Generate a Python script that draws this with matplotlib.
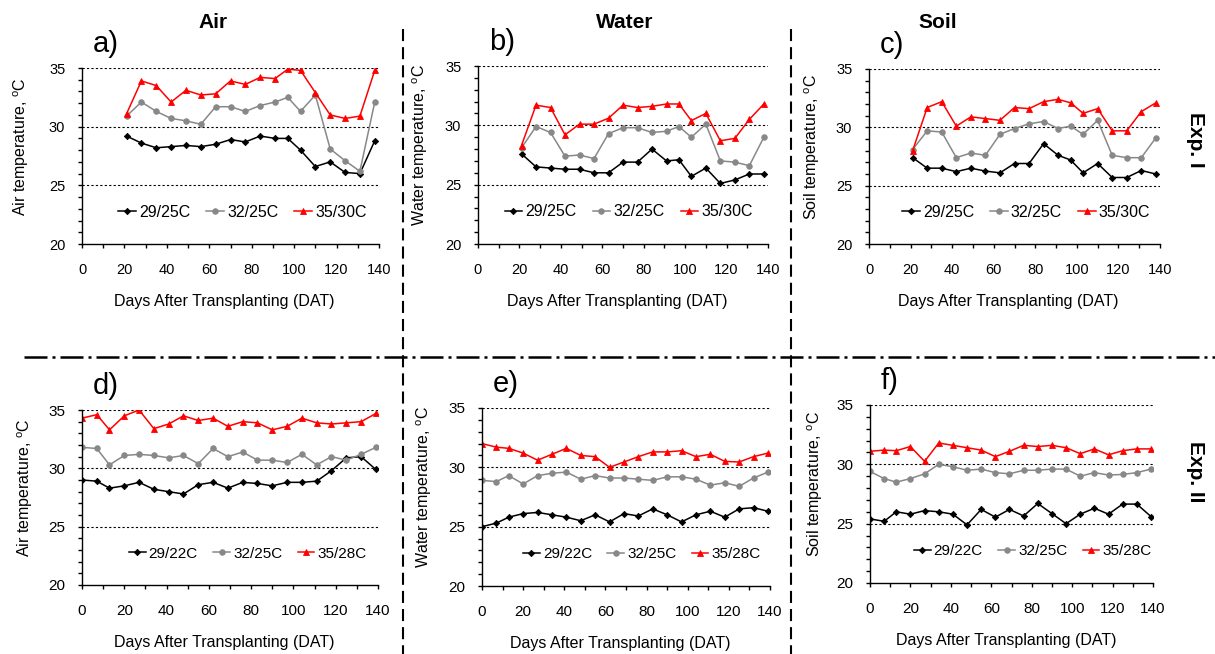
import matplotlib
matplotlib.use("Agg")
import matplotlib.pyplot as plt
from matplotlib.ticker import MultipleLocator

plt.rcParams['font.family'] = ['Liberation Sans', 'DejaVu Sans']
plt.rcParams['mathtext.fontset'] = 'custom'
plt.rcParams['mathtext.rm'] = 'Liberation Sans'

# Days after transplanting
dat_exp1 = [21, 28, 35, 42, 49, 56, 63, 70, 77, 84, 91, 97, 103, 110, 117, 124, 131, 138]
dat_exp2 = [0, 7, 13, 20, 27, 34, 41, 48, 55, 62, 69, 76, 83, 90, 97, 104, 111, 118, 125, 132, 139]

labels_exp1 = ["29/25C", "32/25C", "35/30C"]
labels_exp2 = ["29/22C", "32/25C", "35/28C"]

# Exp. I
air1_low = [29.2, 28.6, 28.2, 28.3, 28.4, 28.3, 28.5, 28.9, 28.7, 29.2, 29.0, 29.0, 28.0, 26.6, 27.0, 26.1, 26.0, 28.8]
air1_mid = [30.9, 32.1, 31.3, 30.7, 30.5, 30.2, 31.7, 31.7, 31.3, 31.8, 32.1, 32.5, 31.3, 32.7, 28.1, 27.1, 26.2, 32.1]
air1_high = [31.1, 33.9, 33.5, 32.1, 33.1, 32.7, 32.8, 33.9, 33.6, 34.2, 34.1, 34.9, 34.8, 32.9, 31.0, 30.7, 30.9, 34.8]

water1_low = [27.6, 26.5, 26.4, 26.3, 26.3, 26.0, 26.0, 26.9, 26.9, 28.0, 27.0, 27.1, 25.7, 26.4, 25.1, 25.4, 25.9, 25.9]
water1_mid = [28.1, 29.9, 29.4, 27.4, 27.5, 27.2, 29.3, 29.8, 29.8, 29.4, 29.5, 29.9, 29.0, 30.1, 27.0, 26.9, 26.6, 29.0]
water1_high = [28.3, 31.7, 31.5, 29.2, 30.1, 30.1, 30.6, 31.7, 31.5, 31.6, 31.8, 31.8, 30.4, 31.0, 28.7, 28.9, 30.5, 31.8]

soil1_low = [27.4, 26.5, 26.5, 26.2, 26.5, 26.25, 26.1, 26.9, 26.9, 28.6, 27.6, 27.2, 26.1, 26.9, 25.7, 25.7, 26.3, 26.0]
soil1_mid = [28.1, 29.7, 29.6, 27.4, 27.8, 27.6, 29.4, 29.9, 30.3, 30.5, 29.9, 30.1, 29.4, 30.6, 27.6, 27.4, 27.4, 29.1]
soil1_high = [28.0, 31.7, 32.2, 30.1, 30.9, 30.75, 30.6, 31.7, 31.6, 32.2, 32.4, 32.1, 31.2, 31.6, 29.7, 29.7, 31.35, 32.1]

# Exp. II
air2_low = [29.0, 28.9, 28.3, 28.5, 28.8, 28.2, 28.0, 27.8, 28.6, 28.8, 28.3, 28.8, 28.7, 28.5, 28.8, 28.8, 28.9, 29.8, 30.9, 31.0, 29.9]
air2_mid = [31.8, 31.7, 30.3, 31.1, 31.2, 31.1, 30.9, 31.1, 30.4, 31.7, 31.0, 31.4, 30.7, 30.7, 30.5, 31.2, 30.3, 31.0, 30.7, 31.2, 31.8]
air2_high = [34.3, 34.6, 33.3, 34.5, 35.0, 33.4, 33.8, 34.5, 34.1, 34.3, 33.6, 34.0, 33.9, 33.3, 33.6, 34.3, 33.9, 33.8, 33.9, 34.0, 34.7]

water2_low = [25.0, 25.3, 25.8, 26.1, 26.2, 26.0, 25.8, 25.5, 26.0, 25.4, 26.1, 25.9, 26.5, 26.0, 25.4, 26.0, 26.3, 25.8, 26.5, 26.6, 26.3]
water2_mid = [28.9, 28.8, 29.3, 28.6, 29.3, 29.5, 29.6, 29.0, 29.3, 29.1, 29.1, 29.0, 28.9, 29.2, 29.2, 29.0, 28.5, 28.7, 28.4, 29.1, 29.6]
water2_high = [32.0, 31.7, 31.6, 31.2, 30.6, 31.1, 31.6, 31.0, 30.9, 30.0, 30.45, 30.9, 31.3, 31.3, 31.4, 30.9, 31.1, 30.5, 30.45, 30.9, 31.2]

soil2_low = [25.4, 25.2, 26.0, 25.8, 26.1, 26.0, 25.8, 24.9, 26.2, 25.55, 26.2, 25.65, 26.7, 25.85, 25.0, 25.8, 26.3, 25.8, 26.65, 26.65, 25.6]
soil2_mid = [29.4, 28.8, 28.5, 28.8, 29.2, 30.0, 29.8, 29.5, 29.6, 29.3, 29.2, 29.5, 29.5, 29.6, 29.6, 29.0, 29.3, 29.1, 29.15, 29.3, 29.6]
soil2_high = [31.1, 31.2, 31.15, 31.5, 30.25, 31.8, 31.6, 31.4, 31.2, 30.65, 31.1, 31.6, 31.5, 31.6, 31.4, 30.9, 31.3, 30.8, 31.15, 31.3, 31.3]

W, H = 1215, 654
fig = plt.figure(figsize=(W / 100, H / 100), dpi=100)


def px_axes(left, right, top, bottom):
    return fig.add_axes([left / W, 1 - bottom / H, (right - left) / W, (bottom - top) / H])


# panel boxes in pixels: left, right, top, bottom, letter, medium, days, series, names, legend x, ylabel x, row
panels = [
    (82, 379, 68, 244, "a)", "Air", dat_exp1, (air1_low, air1_mid, air1_high), labels_exp1, 0.54, 31, 0),
    (478, 768, 66, 244, "b)", "Water", dat_exp1, (water1_low, water1_mid, water1_high), labels_exp1, 0.52, 430, 0),
    (869, 1160, 69, 244, "c)", "Soil", dat_exp1, (soil1_low, soil1_mid, soil1_high), labels_exp1, 0.54, 822, 0),
    (82, 378, 410, 585, "d)", "Air", dat_exp2, (air2_low, air2_mid, air2_high), labels_exp2, 0.56, 35, 1),
    (482, 770, 408, 586, "e)", "Water", dat_exp2, (water2_low, water2_mid, water2_high), labels_exp2, 0.555, 434, 1),
    (870, 1153, 405, 583, "f)", "Soil", dat_exp2, (soil2_low, soil2_mid, soil2_high), labels_exp2, 0.575, 825, 1),
]

styles = [
    dict(color="black", marker="D", markersize=3.2),
    dict(color="#888888", marker="o", markersize=4),
    dict(color="red", marker="^", markersize=5),
]

for left, right, top, bottom, letter, medium, days, series, names, legx, ylab_px, row in panels:
    ax = px_axes(left, right, top, bottom)
    for vals, name, st in zip(series, names, styles):
        ax.plot(days, vals, lw=1.1, label=name, markeredgewidth=0.6, **st)
    for yv in (25, 30, 35):
        ax.axhline(yv, color="black", lw=0.8, ls=(0, (2, 2)), zorder=0)
    ax.set_xlim(0, 140)
    ax.set_ylim(20, 35)
    ax.xaxis.set_major_locator(MultipleLocator(20))
    ax.xaxis.set_minor_locator(MultipleLocator(10))
    ax.yaxis.set_major_locator(MultipleLocator(5))
    ax.yaxis.set_minor_locator(MultipleLocator(1))
    for s in ("top", "right"):
        ax.spines[s].set_visible(False)
    for s in ("left", "bottom"):
        ax.spines[s].set_linewidth(1.0)
    tsize = 10.5 if row == 0 else 11
    ax.tick_params(axis="x", which="both", direction="out", length=3, width=1, pad=11, labelsize=tsize)
    ax.tick_params(axis="y", which="both", direction="out", length=3, width=1, pad=9, labelsize=tsize)
    ax.set_xlabel("Days After Transplanting (DAT)", fontsize=11.5)
    ax.xaxis.set_label_coords(0.48, -50 / (bottom - top))
    ax.set_ylabel(medium + " temperature, $^{\\rm o}$C", fontsize=11.5)
    ax.yaxis.set_label_coords((ylab_px - left) / (right - left), 0.555)
    ax.legend(loc="center", bbox_to_anchor=(legx, 0.18), ncol=3, frameon=False,
              fontsize=11.5 if row == 0 else 11, handlelength=1.1, handletextpad=0.2,
              columnspacing=1.0, borderaxespad=0)
    fig.text((left + 11) / W, 1 - (top - 16) / H, letter, fontsize=21, ha="left", va="baseline")

# column titles
for xc, t in ((213, "Air"), (625, "Water"), (938, "Soil")):
    fig.text(xc / W, 1 - 22 / H, t, fontsize=15, fontweight="bold", ha="center", va="center")

# experiment labels
fig.text(1196 / W, 1 - 140 / H, "Exp. I", fontsize=15, fontweight="bold", rotation=-90,
         ha="center", va="center")
fig.text(1196 / W, 1 - 472 / H, "Exp. II", fontsize=15, fontweight="bold", rotation=-90,
         ha="center", va="center")

# separators
for xs in (403, 791):
    fig.add_artist(plt.Line2D([xs / W, xs / W], [1 - 29 / H, 0], color="black", lw=1.5,
                              ls=(0, (5.8, 2.9))))
fig.add_artist(plt.Line2D([24 / W, 1], [1 - 357 / H, 1 - 357 / H], color="black", lw=1.8,
                          ls=(0, (9.2, 2, 1.2, 2))))

fig.savefig("out.png", dpi=100)
